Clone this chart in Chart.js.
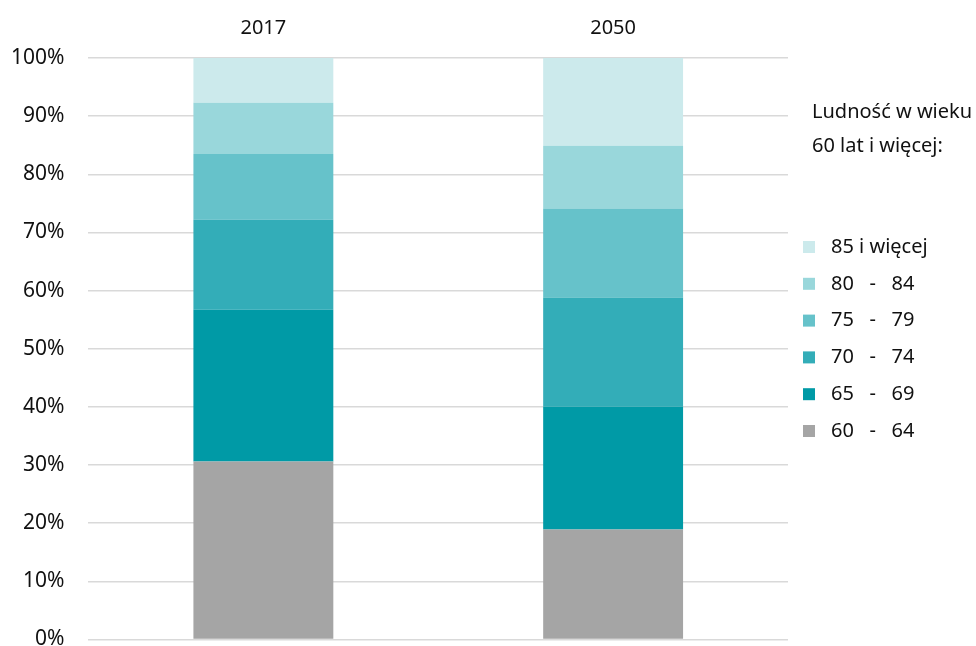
<!DOCTYPE html>
<html>
<head>
<meta charset="utf-8">
<script src="https://cdn.jsdelivr.net/npm/chart.js@4"></script>
<style>
  html, body { margin: 0; padding: 0; background: #fff; overflow: hidden; }
  #wrap { position: relative; width: 976px; height: 676px; }
</style>
</head>
<body>
<div id="wrap"><canvas id="chart"></canvas></div>
<script>
// Categories and series (shares in %)
const years = ['2017', '2050'];
const ageGroups = ['60   -   64', '65   -   69', '70   -   74', '75   -   79', '80   -   84', '85 i więcej'];
const age6064 = [30.6, 18.9];
const age6569 = [26.1, 21.1];
const age7074 = [15.5, 18.8];
const age7579 = [11.3, 15.3];
const age8084 = [8.8, 10.8];
const age85plus = [7.7, 15.1];
const groupColors = ['#a5a5a5', '#009aa6', '#33adb8', '#66c2ca', '#99d7db', '#cceaec'];
const legendTitle = ['Ludność w wieku', '60 lat i więcej:'];
const yTicks = [0, 10, 20, 30, 40, 50, 60, 70, 80, 90, 100];

const FONT = '"Noto Sans", "Open Sans", sans-serif';
const seriesValues = [age6064, age6569, age7074, age7579, age8084, age85plus];

// Legend drawn at the right, top item = last dataset
const sideLegend = {
  id: 'sideLegend',
  afterDraw(chart) {
    const ctx = chart.ctx;
    const x0 = chart.chartArea.right + 24;
    ctx.save();
    ctx.fillStyle = '#111';
    ctx.font = '20px ' + FONT;
    ctx.textBaseline = 'middle';
    ctx.textAlign = 'left';
    legendTitle.forEach((line, i) => ctx.fillText(line, x0, 112 + i * 34));
    const items = chart.data.datasets.slice().reverse();
    items.forEach((ds, i) => {
      const y = 247 + i * 36.8;
      ctx.fillStyle = ds.backgroundColor;
      ctx.fillRect(x0 - 9, y - 6, 12, 12);
      ctx.fillStyle = '#111';
      ctx.fillText(ds.label, x0 + 19, y);
    });
    ctx.restore();
  }
};

new Chart(document.getElementById('chart'), {
  type: 'bar',
  data: {
    labels: years,
    datasets: ageGroups.map((g, i) => ({
      label: g,
      data: seriesValues[i],
      backgroundColor: groupColors[i],
      borderWidth: 0,
      barPercentage: 0.4,
      categoryPercentage: 1
    }))
  },
  options: {
    responsive: true,
    maintainAspectRatio: false,
    animation: false,
    layout: { padding: { left: -13, right: 188, top: 6, bottom: 0 } },
    plugins: {
      legend: { display: false },
      tooltip: { enabled: false }
    },
    scales: {
      x: {
        stacked: true,
        position: 'top',
        grid: { display: false },
        border: { display: false },
        ticks: { color: '#111', font: { family: FONT, size: 20 }, padding: 10 }
      },
      y: {
        stacked: true,
        min: 0,
        max: 100,
        afterBuildTicks: axis => { axis.ticks = yTicks.map(v => ({ value: v })); },
        grid: { color: '#d9d9d9', lineWidth: 1.5, drawTicks: false },
        border: { display: false },
        ticks: {
          color: '#111',
          font: { family: FONT, size: 21 },
          padding: 24,
          callback: v => v + '%'
        }
      }
    }
  },
  plugins: [sideLegend]
});
</script>
</body>
</html>
